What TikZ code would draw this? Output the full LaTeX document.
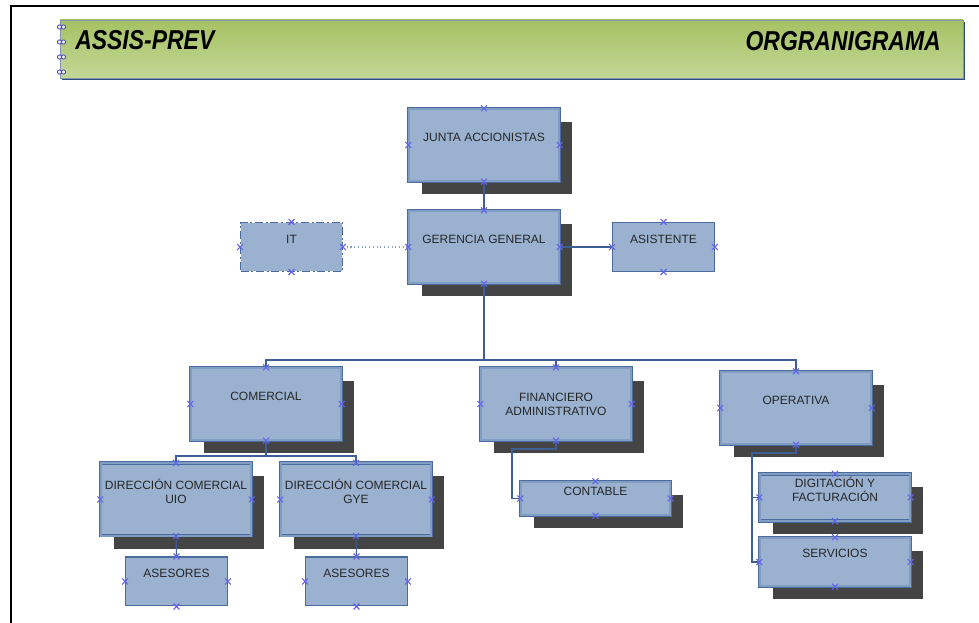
\documentclass[tikz,border=0pt]{standalone}
\usepackage{fontspec}
\setmainfont{Liberation Sans}
\usetikzlibrary{shadows}

\definecolor{boxfill}{HTML}{9AB2D0}
\definecolor{boxline}{HTML}{4A6B9C}
\definecolor{boxmid}{HTML}{809DC4}
\definecolor{shadowgray}{HTML}{444444}
\definecolor{linkblue}{HTML}{3E5F93}
\definecolor{cptblue}{HTML}{6464EE}
\definecolor{bannertop}{HTML}{A6C163}
\definecolor{bannerbot}{HTML}{C2D796}
\definecolor{bannerline}{HTML}{2F4E80}
\definecolor{inktext}{HTML}{262626}

\begin{document}
\begin{tikzpicture}[x=0.75pt,y=-0.75pt,
  every node/.style={font=\fontsize{9}{10.5}\selectfont, text=inktext},
  unitbox/.style={draw=boxline, line width=0.6pt, double=boxmid, double distance=1.4pt, fill=boxfill, inner sep=0pt},
  shadowed/.style={general shadow={fill=shadowgray, shadow xshift=9.75pt, shadow yshift=-9.75pt}},
  plainbox/.style={draw=boxline, line width=0.9pt, fill=boxfill, inner sep=0pt},
  bigsize/.style={minimum width=112.9pt, minimum height=54.4pt},
  smallsize/.style={minimum width=76.3pt, minimum height=36.6pt},
  caption/.style={label={[yshift=6pt, align=center]center:{#1}}},
  link/.style={draw=linkblue, line width=0.8pt},
  cpt/.style={draw=cptblue, line width=0.8pt},
  bannerfont/.style={font=\fontsize{20.5}{24}\selectfont\bfseries\itshape, text=black, inner sep=0pt}
]
\useasboundingbox (0,0) rectangle (979,623);

% page frame
\draw[black, line width=1.5pt] (11,623) -- (11,6) -- (979,6);

% title banner
\fill[bannerline] (62,22) rectangle (965,80);
\shade[top color=bannertop, bottom color=bannerbot, draw=bannerline!60, line width=0.4pt] (60,20) rectangle (963,78);
\foreach \y in {27,42,57,72} {
  \draw[gray!60!blue, line width=0.6pt, fill=white!85!gray] (59.5,\y) circle (1.6pt) (63.5,\y) circle (1.6pt);
}
\node[bannerfont, anchor=west] (brand) at (75,40) {\scalebox{0.84}[1]{ASSIS-PREV}};
\node[bannerfont, anchor=east] (doctitle) at (941,41) {\scalebox{0.84}[1]{ORGRANIGRAMA}};

% top level
\node[unitbox, shadowed, bigsize, caption={JUNTA ACCIONISTAS}] (junta) at (484,145) {};
\node[unitbox, shadowed, bigsize, caption={GERENCIA GENERAL}] (gerencia) at (484,247) {};
\node[plainbox, smallsize, dash pattern=on 6pt off 2pt on 1.5pt off 2pt, caption={IT}] (it) at (291.5,247) {};
\node[plainbox, smallsize, caption={ASISTENTE}] (asist) at (663.5,247) {};

% departments
\node[unitbox, shadowed, bigsize, caption={COMERCIAL}] (comercial) at (266,404) {};
\node[unitbox, shadowed, bigsize, label={[align=center]center:{FINANCIERO\\ADMINISTRATIVO}}] (finan) at (556,404) {};
\node[unitbox, shadowed, bigsize, caption={OPERATIVA}] (operativa) at (796,408) {};

% commercial branch
\node[unitbox, shadowed, bigsize, caption={DIRECCIÓN COMERCIAL\\UIO}] (uio) at (176,499.5) {};
\node[unitbox, shadowed, bigsize, caption={DIRECCIÓN COMERCIAL\\GYE}] (gye) at (356,499.5) {};
\node[plainbox, smallsize, caption={ASESORES}] (asesuio) at (176.5,581.5) {};
\node[plainbox, smallsize, caption={ASESORES}] (asesgye) at (356.5,581.5) {};

% finance and operations branches
\node[unitbox, shadowed, minimum width=112.2pt, minimum height=25.2pt, label={[yshift=5.5pt]center:CONTABLE}] (contable) at (595.5,498.5) {};
\node[unitbox, shadowed, minimum width=112.9pt, minimum height=35pt, caption={DIGITACIÓN Y\\FACTURACIÓN}] (digit) at (835,497.5) {};
\node[unitbox, shadowed, minimum width=112.9pt, minimum height=36.4pt, label={[yshift=6.5pt]center:SERVICIOS}] (serv) at (835,562) {};

% connectors
\coordinate (busmain) at (484,360);
\coordinate (buscom) at (266,456);
\coordinate (bendfin) at (512,449);
\coordinate (bendop) at (752,453);

\draw[link] (junta.south) -- (gerencia.north);
\draw[draw=linkblue!60, line width=0.8pt, dotted] (it.east) -- (gerencia.west);
\draw[link] (gerencia.east) -- (asist.west);
\draw[link] (gerencia.south) -- (busmain);
\draw[link] (comercial.north) |- (busmain);
\draw[link] (finan.north) |- (busmain);
\draw[link] (operativa.north) |- (busmain);
\draw[link] (comercial.south) -- (buscom);
\draw[link] (uio.north) |- (buscom);
\draw[link] (gye.north) |- (buscom);
\draw[link] (uio.south) -- (asesuio.north);
\draw[link] (gye.south) -- (asesgye.north);
\draw[link] (finan.south) |- (bendfin) |- (contable.west);
\draw[link] (operativa.south) |- (bendop) |- (digit.west);
\draw[link] (bendop) |- (serv.west);

% connection point markers
\foreach \n in {junta,gerencia,it,asist,comercial,finan,operativa,uio,gye,asesuio,asesgye,contable,digit,serv} {
  \foreach \a in {north,south,east,west} {
    \draw[cpt] ([shift={(-2.2pt,-2.2pt)}]\n.\a) -- ([shift={(2.2pt,2.2pt)}]\n.\a)
               ([shift={(-2.2pt,2.2pt)}]\n.\a) -- ([shift={(2.2pt,-2.2pt)}]\n.\a);
  }
}
\end{tikzpicture}
\end{document}
